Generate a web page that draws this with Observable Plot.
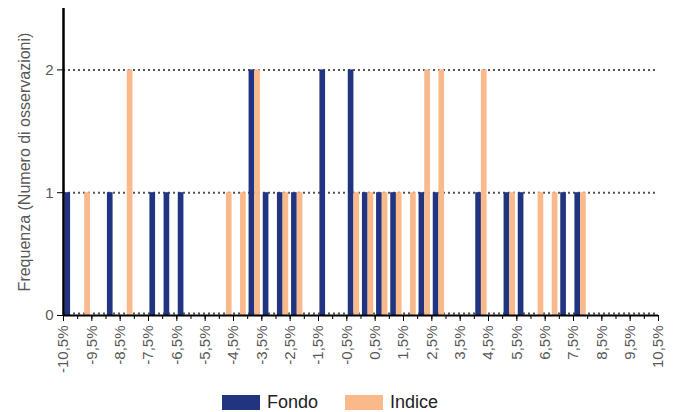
<!DOCTYPE html>
<html>
<head>
<meta charset="utf-8">
<script src="https://cdn.jsdelivr.net/npm/d3@7"></script>
<script src="https://cdn.jsdelivr.net/npm/@observablehq/plot@0.6"></script>
<style>
  html, body { margin: 0; padding: 0; background: #fff; }
  body { width: 677px; height: 412px; overflow: hidden; font-family: "Liberation Sans", Arial, sans-serif; }
  #legend { position: relative; height: 32px; }
  .item { position: absolute; top: 12px; display: flex; align-items: center; font-size: 18px; color: #222; }
  .sw { width: 38px; height: 15px; margin-right: 7px; }
</style>
</head>
<body>
<div id="chart"></div>
<div id="legend"></div>
<script>
// Bin lower edges (%), each bin is 0.5% wide
const binLow = [-10.5,-10,-9.5,-9,-8.5,-8,-7.5,-7,-6.5,-6,-5.5,-5,-4.5,-4,-3.5,-3,-2.5,-2,-1.5,-1,-0.5,0,0.5,1,1.5,2,2.5,3,3.5,4,4.5,5,5.5,6,6.5,7,7.5,8,8.5,9,9.5,10];
// Frequencies
const fondo  = [1,0,0,1,0,0,1,1,1,0,0,0,0,2,1,1,1,0,2,0,2,1,1,1,0,1,1,0,0,1,0,1,1,0,0,1,1,0,0,0,0,0];
const indice = [0,1,0,0,2,0,0,0,0,0,0,1,1,2,0,1,1,0,0,0,1,1,1,1,1,2,2,0,0,2,0,1,0,1,1,0,1,0,0,0,0,0];
// Axis ticks
const minorTicks = [...binLow, 10.5];
const labelTicks = [-10.5,-9.5,-8.5,-7.5,-6.5,-5.5,-4.5,-3.5,-2.5,-1.5,-0.5,0.5,1.5,2.5,3.5,4.5,5.5,6.5,7.5,8.5,9.5,10.5];
const labelText  = ["-10,5%","-9,5%","-8,5%","-7,5%","-6,5%","-5,5%","-4,5%","-3,5%","-2,5%","-1,5%","-0,5%","0,5%","1,5%","2,5%","3,5%","4,5%","5,5%","6,5%","7,5%","8,5%","9,5%","10,5%"];
const yTicks = [0, 1, 2];
const yTickText = ["0", "1", "2"];
const seriesNames = ["Fondo", "Indice"];
const colors = ["#21347f", "#f9b98b"];

const fondoData = binLow.map((lo, i) => ({lo, v: fondo[i]})).filter(d => d.v > 0);
const indiceData = binLow.map((lo, i) => ({lo, v: indice[i]})).filter(d => d.v > 0);

const grey = "#595959";
const chart = Plot.plot({
  width: 677,
  height: 380,
  marginLeft: 63,
  marginRight: 19,
  marginTop: 8,
  marginBottom: 65,
  style: {fontFamily: "Liberation Sans, Arial, sans-serif", background: "#fff"},
  x: {type: "linear", domain: [-10.5, 10.5]},
  y: {domain: [0, 2.5]},
  marks: [
    Plot.ruleY([1, 2], {stroke: "#555", strokeWidth: 2, strokeDasharray: "2,3"}),
    Plot.ruleY([0], {stroke: "#555", strokeWidth: 2, strokeDasharray: "2,3", dy: -2}),
    Plot.rectY(fondoData, {x1: d => d.lo + 0.05, x2: d => d.lo + 0.25, y1: 0, y2: "v", fill: colors[0]}),
    Plot.rectY(indiceData, {x1: d => d.lo + 0.25, x2: d => d.lo + 0.45, y1: 0, y2: "v", fill: colors[1]}),
    Plot.ruleY([0], {stroke: "#000", strokeWidth: 2}),
    Plot.ruleX([-10.5], {y1: 0, y2: 2.5, stroke: "#000", strokeWidth: 2.5}),
    Plot.axisX({ticks: minorTicks, tickSize: 4, tickFormat: () => "", stroke: "#000", label: null}),
    Plot.axisX({ticks: labelTicks, tickSize: 6, tickRotate: -90, tickPadding: 4,
      tickFormat: d => labelText[labelTicks.indexOf(d)], fontSize: 15, fill: grey, stroke: "#000", label: null}),
    Plot.axisY({ticks: yTicks, tickSize: 6, tickPadding: 4, tickFormat: d => yTickText[yTicks.indexOf(d)],
      fontSize: 15, fill: grey, stroke: "#000", label: null}),
    Plot.text(["Frequenza (Numero di osservazioni)"], {frameAnchor: "left", dx: -39, rotate: -90, fontSize: 16, fill: grey, lineAnchor: "middle", textAnchor: "middle"})
  ]
});
document.getElementById("chart").appendChild(chart);

const legend = document.getElementById("legend");
const lefts = [222, 345];
seriesNames.forEach((name, i) => {
  const item = document.createElement("div");
  item.className = "item";
  item.style.left = lefts[i] + "px";
  const sw = document.createElement("div");
  sw.className = "sw";
  sw.style.background = colors[i];
  const t = document.createElement("span");
  t.textContent = name;
  item.appendChild(sw);
  item.appendChild(t);
  legend.appendChild(item);
});
</script>
</body>
</html>
